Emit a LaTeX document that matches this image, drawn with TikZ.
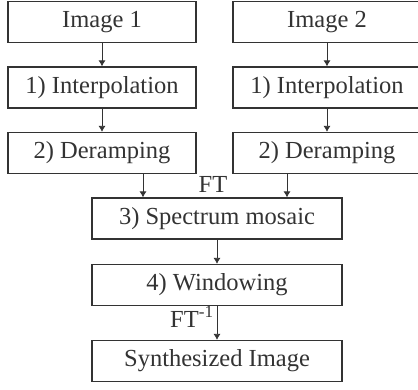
\documentclass[tikz,border=0pt]{standalone}
\usepackage{fontspec}
\setmainfont{Liberation Serif}
\usetikzlibrary{positioning,arrows.meta}
\tikzset{
    on grid,
    node distance=65.5pt,
    block/.style = {
        draw,
        shape=rectangle,
        minimum height=41pt,
        minimum width=188pt,
        line width=1.2pt,
        inner sep=0pt
    },
    wide/.style = {
        block,
        minimum width=250pt
    },
    tag/.style = {
        shape=rectangle,
        inner sep=0pt
    },
    >={Latex[length=6pt,width=7pt]},
}

\begin{document}
\begin{tikzpicture}[x=1pt,y=-1pt,color=black!80,line width=0.8pt,
        font=\fontsize{24.5}{29}\selectfont]
            \clip (0,0) rectangle (418,389);

            % two input chains
            \node[block] (img1) at (102,22) {Image 1};
            \node[block] (img2) at (327,22) {Image 2};
            \node[block, below=of img1] (interp1) {1) Interpolation};
            \node[block, below=of img2] (interp2) {1) Interpolation};
            \node[block, below=of interp1] (deramp1) {2) Deramping};
            \node[block, below=of interp2] (deramp2) {2) Deramping};

            % merged part
            \node[wide] (mosaic) at (217,218.5) {3) Spectrum mosaic};
            \node[wide, below=66.5pt of mosaic] (window) {4) Windowing};
            \node[wide, below=76pt of window] (synth) {Synthesized Image};

            \node[tag] (ft) at (213,184) {FT};
            \node[tag, anchor=base east] (ftinv) at (214,327) {FT\textsuperscript{-1}};

            \path[draw, ->] (img1) -- (interp1);
            \path[draw, ->] (interp1) -- (deramp1);
            \path[draw, ->] (img2) -- (interp2);
            \path[draw, ->] (interp2) -- (deramp2);
            \path[draw, ->] ([xshift=41pt]deramp1.south) -- ([xshift=41pt]deramp1.south |- mosaic.north);
            \path[draw, ->] ([xshift=-40pt]deramp2.south) -- ([xshift=-40pt]deramp2.south |- mosaic.north);
            \path[draw, ->] (mosaic) -- (window);
            \path[draw, ->] (window) -- (synth);
        \end{tikzpicture}
\end{document}
